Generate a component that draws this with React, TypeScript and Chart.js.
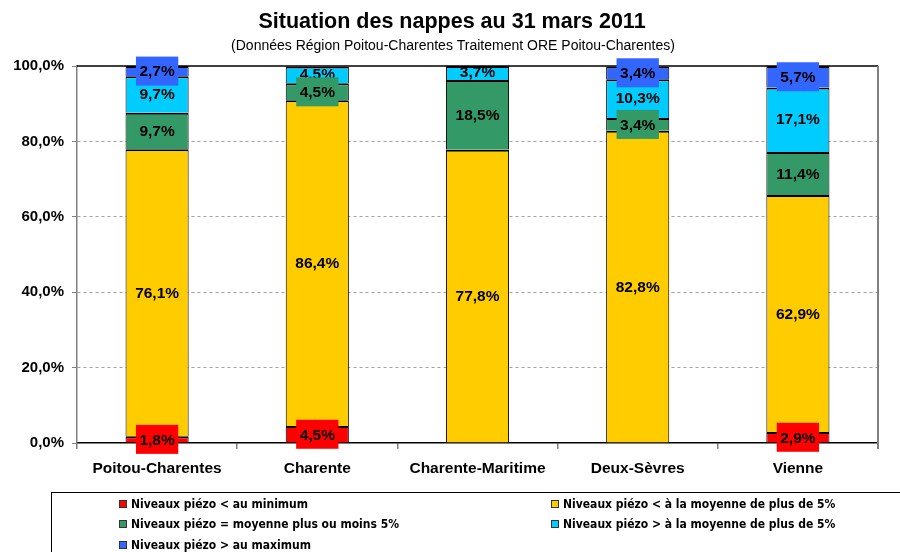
import React, { useEffect, useRef } from "react";
import { Chart, registerables } from "chart.js";

Chart.register(...registerables);

const categories = ["Poitou-Charentes", "Charente", "Charente-Maritime", "Deux-Sèvres", "Vienne"];
const seriesNames = [
  "Niveaux piézo < au minimum",
  "Niveaux piézo < à la moyenne de plus de 5%",
  "Niveaux piézo = moyenne plus ou moins 5%",
  "Niveaux piézo > à la moyenne de plus de 5%",
  "Niveaux piézo > au maximum",
];
const belowMin = [1.8, 4.5, 0, 0, 2.9];
const belowAvg = [76.1, 86.4, 77.8, 82.8, 62.9];
const aroundAvg = [9.7, 4.5, 18.5, 3.4, 11.4];
const aboveAvg = [9.7, 4.5, 3.7, 10.3, 17.1];
const aboveMax = [2.7, 0, 0, 3.4, 5.7];
const seriesColors = ["#FF0000", "#FFCC00", "#339966", "#00CCFF", "#3366FF"];
const titleText = "Situation des nappes au 31 mars 2011";
const subtitleText = "(Données Région Poitou-Charentes Traitement ORE Poitou-Charentes)";

const fmt = (v: number) => v.toFixed(1).replace(".", ",") + "%";

export default function App() {
  const ref = useRef<HTMLCanvasElement | null>(null);

  useEffect(() => {
    const canvas = ref.current;
    if (!canvas) return;
    const values = [belowMin, belowAvg, aroundAvg, aboveAvg, aboveMax];

    const framePlugin = {
      id: "frame",
      beforeDatasetsDraw(chart: any) {
        const { ctx, chartArea } = chart;
        ctx.save();
        ctx.lineWidth = 1.5;
        ctx.strokeStyle = "#000";
        ctx.beginPath();
        ctx.moveTo(chartArea.left, chartArea.top);
        ctx.lineTo(chartArea.right, chartArea.top);
        ctx.stroke();
        ctx.strokeStyle = "#808080";
        ctx.lineWidth = 2;
        ctx.beginPath();
        ctx.moveTo(chartArea.right, chartArea.top);
        ctx.lineTo(chartArea.right, chartArea.bottom + 6);
        ctx.stroke();
        ctx.restore();
      },
    };

    const labelPlugin = {
      id: "segLabels",
      afterDatasetsDraw(chart: any) {
        const { ctx, chartArea } = chart;
        ctx.save();
        ctx.font = 'bold 15.5px "Liberation Sans", Arial, sans-serif';
        ctx.textAlign = "center";
        ctx.textBaseline = "middle";
        const order = [3, 0, 1, 2, 4];
        order.forEach((di) => {
          const ds = chart.data.datasets[di];
          const meta = chart.getDatasetMeta(di);
          meta.data.forEach((el: any, i: number) => {
            const v = ds.data[i];
            if (!v) return;
            const cy = (el.y + el.base) / 2;
            const txt = fmt(v);
            if (di === 3) {
              ctx.save();
              ctx.beginPath();
              ctx.rect(chartArea.left, chartArea.top + 1, chartArea.right - chartArea.left, chartArea.bottom - chartArea.top);
              ctx.clip();
              ctx.fillStyle = "#000";
              ctx.fillText(txt, el.x, cy);
              ctx.restore();
              return;
            }
            const w = ctx.measureText(txt).width + 7;
            const h = 29;
            ctx.fillStyle = seriesColors[di];
            ctx.fillRect(el.x - w / 2, cy - h / 2, w, h);
            ctx.fillStyle = "#000";
            ctx.fillText(txt, el.x, cy + 1);
          });
        });
        ctx.restore();
      },
    };

    const decorPlugin = {
      id: "decor",
      afterDraw(chart: any) {
        const { ctx } = chart;
        ctx.save();
        ctx.fillStyle = "#000";
        ctx.textAlign = "center";
        ctx.textBaseline = "middle";
        ctx.font = 'bold 21.5px "Liberation Sans", Arial, sans-serif';
        ctx.fillText(titleText, 452, 22);
        ctx.font = '14px "Liberation Sans", Arial, sans-serif';
        ctx.fillText(subtitleText, 453, 46);

        // legend
        ctx.strokeStyle = "#000";
        ctx.lineWidth = 1;
        ctx.strokeRect(51.5, 492.5, 870, 80);
        const pos = [
          [119, 504],
          [551, 504],
          [119, 524],
          [551, 524],
          [119, 545],
        ];
        ctx.font = 'bold 12px "DejaVu Sans Condensed", "Liberation Sans Narrow", Arial, sans-serif';
        ctx.textAlign = "left";
        seriesNames.forEach((name, i) => {
          const [x, y] = pos[i];
          ctx.fillStyle = seriesColors[i];
          ctx.fillRect(x, y - 4, 8, 8);
          ctx.strokeStyle = "#333";
          ctx.strokeRect(x + 0.5, y - 3.5, 7, 7);
          ctx.fillStyle = "#000";
          ctx.fillText(name, x + 12, y + 0.5);
        });
        ctx.restore();
      },
    };

    const chart = new Chart(canvas, {
      type: "bar",
      data: {
        labels: categories,
        datasets: values.map((vals, i) => ({
          label: seriesNames[i],
          data: vals,
          backgroundColor: seriesColors[i],
          borderColor: "#000",
          borderWidth: { top: 2, left: 1, right: 1, bottom: 0 },
          borderSkipped: false,
          barPercentage: 1,
          categoryPercentage: 0.394,
        })),
      },
      options: {
        responsive: false,
        animation: false,
        layout: { padding: { left: 0, right: 22, top: 66, bottom: 69 } },
        plugins: {
          legend: { display: false },
          title: { display: false },
          tooltip: { enabled: false },
        },
        scales: {
          x: {
            stacked: true,
            afterFit: (s: any) => {
              s.height = 40;
            },
            grid: {
              offset: true,
              drawOnChartArea: false,
              drawTicks: true,
              tickLength: 6,
              color: "#808080",
              lineWidth: 1.5,
            },
            border: { display: true, color: "#000", width: 1.5 },
            ticks: {
              color: "#000",
              padding: 10,
              font: { family: '"Liberation Sans", Arial, sans-serif', size: 15.5, weight: "bold" },
            },
          },
          y: {
            stacked: true,
            min: 0,
            max: 100,
            afterFit: (s: any) => {
              s.width = 77;
            },
            ticks: {
              stepSize: 20,
              color: "#000",
              padding: 8,
              callback: (v: any) => Number(v).toFixed(1).replace(".", ",") + "%",
              font: { family: '"Liberation Sans", Arial, sans-serif', size: 15, weight: "bold" },
            },
            grid: {
              color: (c: any) => (c.tick && (c.tick.value === 0 || c.tick.value === 100) ? "rgba(0,0,0,0)" : "#a0a0a0"),
              tickColor: "#808080",
              tickLength: 5,
              lineWidth: 1,
              drawTicks: true,
            },
            border: { display: true, color: "#808080", width: 1.5, dash: [3, 3] },
          },
        },
      },
      plugins: [framePlugin, labelPlugin, decorPlugin],
    } as any);

    return () => chart.destroy();
  }, []);

  return (
    <div style={{ position: "fixed", left: 0, top: 0, width: 900, height: 552, background: "#fff" }}>
      <canvas ref={ref} width={900} height={552} style={{ display: "block" }} />
    </div>
  );
}
